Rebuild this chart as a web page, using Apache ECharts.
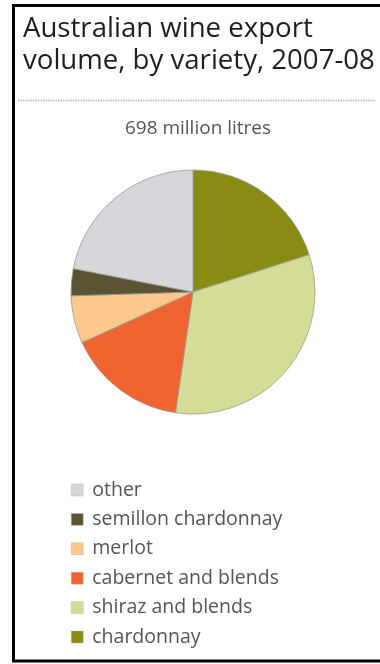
<!DOCTYPE html>
<html>
<head>
<meta charset="utf-8">
<script src="https://cdn.jsdelivr.net/npm/echarts@6/dist/echarts.min.js"></script>
<style>
  html,body{margin:0;padding:0;background:#fff}
  #chart{width:380px;height:664px}
</style>
</head>
<body>
<div id="chart"></div>
<script>
// varieties, clockwise from 12 o'clock
const varieties = ['chardonnay', 'shiraz and blends', 'cabernet and blends', 'merlot', 'semillon chardonnay', 'other']
// million litres (total 698)
const volumes = [140, 225, 111, 44, 25, 153]
const colours = ['#8a8b12', '#d5dc96', '#ef6430', '#fcc88c', '#5a5434', '#d6d7db']
// legend is listed the other way round
const legendOrder = ['other', 'semillon chardonnay', 'merlot', 'cabernet and blends', 'shiraz and blends', 'chardonnay']

const chart = echarts.init(document.getElementById('chart'))

chart.setOption({
  animation: false,
  title: [
    {
      text: 'Australian wine export\nvolume, by variety, 2007-08',
      left: 18,
      top: 8,
      textStyle: {fontFamily: 'Open Sans', fontWeight: 'normal', fontSize: 27.6, lineHeight: 32, color: '#1e1e1e'}
    },
    {
      text: '698 million litres',
      left: 193,
      top: 114,
      textAlign: 'center',
      textStyle: {fontFamily: 'Open Sans', fontWeight: 'normal', fontSize: 19, lineHeight: 20, color: '#555'}
    }
  ],
  legend: {
    orient: 'vertical',
    left: 66,
    top: 475,
    itemWidth: 12,
    itemHeight: 12,
    itemGap: 9.4,
    icon: 'rect',
    selectedMode: false,
    data: legendOrder,
    itemStyle: {borderColor: '#bbb', borderWidth: 0.5},
    textStyle: {fontFamily: 'Open Sans', fontSize: 19.5, lineHeight: 20, color: '#555', padding: [0, 0, 0, 4]}
  },
  graphic: [
    {
      type: 'rect',
      shape: {x: 13.5, y: 5.5, width: 400, height: 655.5},
      style: {fill: 'none', stroke: '#000', lineWidth: 3}
    },
    {
      type: 'line',
      shape: {x1: 18, y1: 100.5, x2: 376, y2: 100.5},
      style: {stroke: '#b8b8b8', lineWidth: 1.5, lineDash: [1.5, 1]}
    }
  ],
  series: [{
    type: 'pie',
    center: [193, 292],
    radius: 122,
    startAngle: 90,
    clockwise: true,
    label: {show: false},
    labelLine: {show: false},
    emphasis: {disabled: true},
    itemStyle: {borderColor: '#9a9a9a', borderWidth: 0.8},
    data: varieties.map((v, i) => ({name: v, value: volumes[i], itemStyle: {color: colours[i]}}))
  }]
})
</script>
</body>
</html>
